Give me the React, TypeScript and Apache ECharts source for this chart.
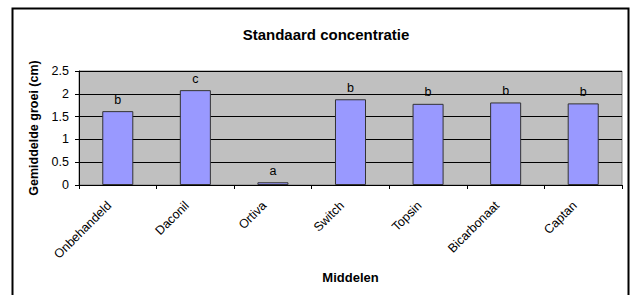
import React, { useEffect, useRef } from "react";
import * as echarts from "echarts";

const categories = ["Onbehandeld", "Daconil", "Ortiva", "Switch", "Topsin", "Bicarbonaat", "Captan"];
const values = [1.62, 2.08, 0.06, 1.88, 1.78, 1.81, 1.79];
const groupLetters = ["b", "c", "a", "b", "b", "b", "b"];

const FONT = "'Liberation Sans', Arial, sans-serif";

export default function App() {
  const ref = useRef<HTMLDivElement>(null);
  useEffect(() => {
    if (!ref.current) return;
    const chart = echarts.init(ref.current, undefined, { renderer: "svg" });
    chart.setOption({
      animation: false,
      backgroundColor: "#ffffff",
      textStyle: { fontFamily: FONT },
      title: {
        text: "Standaard concentratie",
        left: 321,
        textAlign: "center",
        top: 22,
        textStyle: { fontFamily: FONT, fontSize: 15, fontWeight: "bold", color: "#000" },
      },
      graphic: [
        {
          type: "rect",
          shape: { x: 12.5, y: 8.5, width: 616, height: 300 },
          style: { fill: "none", stroke: "#000", lineWidth: 2 },
          silent: true,
          z: 100,
        },
      ],
      grid: {
        left: 79,
        right: 13,
        top: 71,
        bottom: 110,
        show: true,
        backgroundColor: "#C0C0C0",
        borderColor: "#808080",
        borderWidth: 1,
      },
      xAxis: {
        type: "category",
        data: categories,
        name: "Middelen",
        nameLocation: "middle",
        nameGap: 86,
        nameTextStyle: { fontFamily: FONT, fontSize: 13, fontWeight: "bold", color: "#000" },
        axisLine: { show: true, lineStyle: { color: "#000", width: 1 } },
        axisTick: { show: true, length: 4, lineStyle: { color: "#000" } },
        axisLabel: {
          rotate: 45,
          fontFamily: FONT,
          fontSize: 12.5,
          color: "#000",
          margin: 10,
          interval: 0,
          padding: [0, 12, 0, 0],
        },
      },
      yAxis: {
        type: "value",
        min: 0,
        max: 2.5,
        interval: 0.5,
        name: "Gemiddelde groei (cm)",
        nameLocation: "middle",
        nameGap: 38,
        nameTextStyle: { fontFamily: FONT, fontSize: 12.5, fontWeight: "bold", color: "#000" },
        axisLine: { show: true, lineStyle: { color: "#000", width: 1 } },
        axisTick: { show: true, length: 4, lineStyle: { color: "#000" } },
        axisLabel: { fontFamily: FONT, fontSize: 12.5, color: "#000", margin: 10 },
        splitLine: { show: true, lineStyle: { color: "#000", width: 1 } },
      },
      series: [
        {
          type: "bar",
          data: values,
          barCategoryGap: "60%",
          itemStyle: { color: "#9999FF", borderColor: "#333333", borderWidth: 1 },
          label: {
            show: true,
            position: "top",
            distance: 5,
            fontFamily: FONT,
            fontSize: 12.5,
            color: "#000",
            formatter: (p: any) => groupLetters[p.dataIndex],
          },
        },
      ],
    });
    return () => chart.dispose();
  }, []);
  return <div ref={ref} style={{ position: "absolute", left: 0, top: 0, width: 635, height: 295 }} />;
}
